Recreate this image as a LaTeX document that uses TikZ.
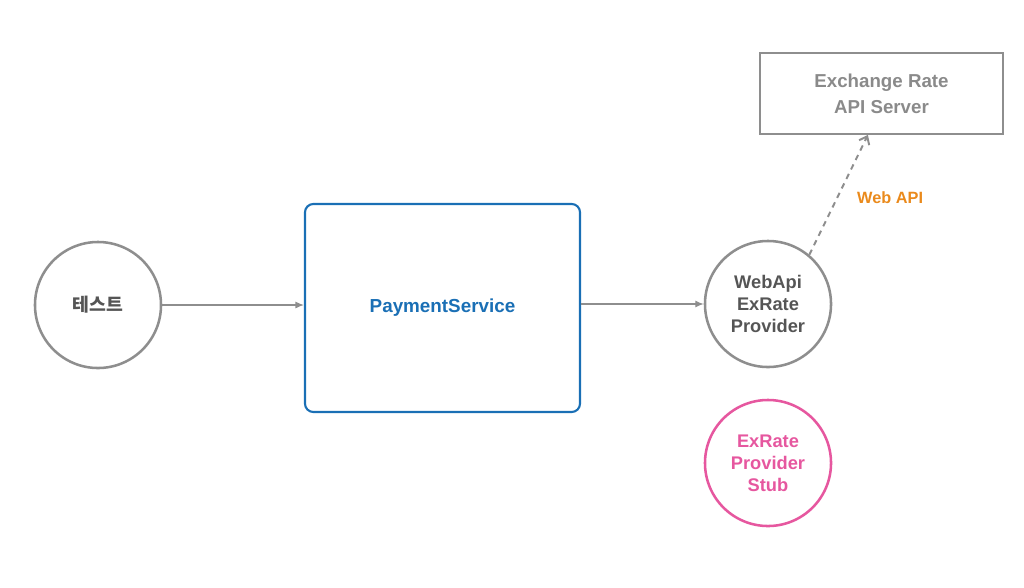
\documentclass[tikz,border=0pt]{standalone}
\usepackage{fontspec}
\setmainfont{Liberation Sans}
\newfontfamily\krfont{Noto Sans CJK KR}
\usetikzlibrary{shapes,arrows,arrows.meta,positioning}

\definecolor{lineGray}{HTML}{8E8E8E}
\definecolor{textGray}{HTML}{555555}
\definecolor{serverGray}{HTML}{8A8A8A}
\definecolor{svcBlue}{HTML}{1A6FB5}
\definecolor{stubPink}{HTML}{E6579F}
\definecolor{apiOrange}{HTML}{EA8A1C}

\begin{document}
\begin{tikzpicture}[x=0.025cm, y=-0.025cm, auto]

    % Define block styles
    \tikzstyle{circ} = [circle, draw=lineGray, line width=1.8pt, minimum size=3.15cm,
        inner sep=0pt, align=center, text=textGray, font=\bfseries\fontsize{13}{15.6}\selectfont]
    \tikzstyle{service} = [rectangle, draw=svcBlue, line width=1.5pt, rounded corners=6pt,
        minimum width=6.875cm, minimum height=5.2cm, text=svcBlue, font=\bfseries\fontsize{13.4}{15}\selectfont]
    \tikzstyle{server} = [rectangle, draw=lineGray, line width=1.3pt, minimum width=6.075cm,
        minimum height=2.025cm, align=center, text=serverGray, font=\bfseries\fontsize{13.3}{18.5}\selectfont]
    \tikzstyle{line} = [draw=lineGray, line width=0.9pt, -{Latex[length=6pt,width=5pt]}]

    \useasboundingbox (0,0) rectangle (1024,587);

    % Place nodes
    \node [circ] (test) at (98,305) {\krfont\bfseries 테스트};
    \node [service] (payment) at (442.5,308) {PaymentService};
    \node [circ] (webapi) at (768,304) {WebApi\\ExRate\\Provider};
    \node [circ, draw=stubPink, text=stubPink] (stub) at (768,463) {ExRate\\Provider\\Stub};
    \node [server] (apiserver) at (881.5,93.5) {Exchange Rate\\API Server};

    % Draw edges
    \path [line] (test) -- (test -| payment.west);
    \path [line] (payment.east |- webapi) -- (webapi);
    \path [draw=lineGray, line width=1.4pt, dash pattern=on 4pt off 3.5pt,
        -{Straight Barb[length=5pt,width=8pt]}] (webapi.50) -- ([xshift=-0.34cm]apiserver.south)
        node [pos=0.48, right=10pt, text=apiOrange, font=\bfseries\fontsize{11.6}{14}\selectfont] {Web API};

\end{tikzpicture}
\end{document}
